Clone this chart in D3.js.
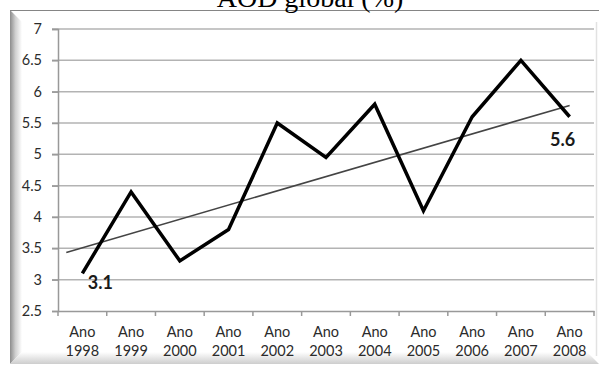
<!DOCTYPE html>
<html>
<head>
<meta charset="utf-8">
<script src="https://cdn.jsdelivr.net/npm/d3@7"></script>
<style>
  html, body { margin: 0; padding: 0; background: #fff; }
  svg { display: block; }
</style>
</head>
<body>
<svg id="chart" width="599" height="365"></svg>
<script>
// Global AOD by year, with a linear trend
const categories = ["Ano 1998", "Ano 1999", "Ano 2000", "Ano 2001", "Ano 2002", "Ano 2003",
                    "Ano 2004", "Ano 2005", "Ano 2006", "Ano 2007", "Ano 2008"];
const aodValues = [3.1, 4.4, 3.3, 3.8, 5.5, 4.95, 5.8, 4.1, 5.6, 6.5, 5.6];
// trend line endpoints: [category position, value]
const trendPoints = [[-0.33, 3.435], [10, 5.78]];
const yTicks = [2.5, 3, 3.5, 4, 4.5, 5, 5.5, 6, 6.5, 7];
const labelledPoints = [0, 10];
const titleText = "AOD global (%)";

const svg = d3.select("#chart");
const W = 599, H = 365;
const plot = { left: 58, right: 594, top: 29, bottom: 311 };

const defs = svg.append("defs");
const gl = defs.append("linearGradient").attr("id", "bevelLeft")
  .attr("x1", "0").attr("x2", "1").attr("y1", "0").attr("y2", "0");
gl.append("stop").attr("offset", "0").attr("stop-color", "#8c8c8c");
gl.append("stop").attr("offset", "0.45").attr("stop-color", "#cfcfcf");
gl.append("stop").attr("offset", "1").attr("stop-color", "#ffffff");
const gb = defs.append("linearGradient").attr("id", "bevelBottom")
  .attr("x1", "0").attr("x2", "0").attr("y1", "0").attr("y2", "1");
gb.append("stop").attr("offset", "0").attr("stop-color", "#ffffff");
gb.append("stop").attr("offset", "1").attr("stop-color", "#cdcdcd");

// frame
svg.append("rect").attr("x", 10).attr("y", 10).attr("width", 587).attr("height", 354).attr("fill", "#fff");
svg.append("path").attr("d", "M10,10 L22,22 L22,352 L10,364 Z").attr("fill", "url(#bevelLeft)");
svg.append("path").attr("d", "M10,364 L22,352 L587,352 L599,364 Z").attr("fill", "url(#bevelBottom)");
svg.append("line").attr("x1", 596.5).attr("x2", 596.5).attr("y1", 22).attr("y2", 356)
  .attr("stroke", "#e2e2e2").attr("stroke-width", 1.5);
svg.append("line").attr("x1", 10).attr("x2", W).attr("y1", 10.5).attr("y2", 10.5)
  .attr("stroke", "#858585").attr("stroke-width", 1.2);

// title (sits partly above the top edge)
svg.append("text").attr("x", 310).attr("y", 7).attr("text-anchor", "middle")
  .attr("font-family", "'Liberation Serif', 'Times New Roman', serif")
  .attr("font-size", 28).attr("fill", "#000").text(titleText);

const x = d3.scaleBand().domain(categories).range([plot.left, plot.right]).padding(0);
const y = d3.scaleLinear().domain([2.5, 7]).range([plot.bottom, plot.top]);
const xPos = i => x(categories[0]) + x.bandwidth() / 2 + i * x.step();

// gridlines
svg.append("g").selectAll("line").data(yTicks.filter(t => t !== 2.5)).join("line")
  .attr("x1", plot.left - 6).attr("x2", plot.right)
  .attr("y1", d => y(d)).attr("y2", d => y(d))
  .attr("stroke", "#b3b3b3").attr("stroke-width", 1.5);

// y axis
const yAxis = svg.append("g").attr("transform", `translate(${plot.left},0)`)
  .call(d3.axisLeft(y).tickValues(yTicks).tickSize(6).tickPadding(10).tickFormat(d3.format("")));
yAxis.select(".domain").attr("stroke", "#999").attr("stroke-width", 1.5);
yAxis.selectAll(".tick line").attr("stroke", "#999").attr("stroke-width", 1.5);
yAxis.selectAll(".tick text").attr("font-family", "Lato, 'Open Sans', sans-serif")
  .attr("font-size", 14.5).attr("fill", "#2b2b2b");

// x axis
const xAxis = svg.append("g").attr("transform", `translate(0,${plot.bottom})`)
  .call(d3.axisBottom(x).tickSize(0).tickFormat(""));
xAxis.select(".domain").attr("stroke", "#999").attr("stroke-width", 1.5);
svg.append("g").selectAll("line").data(d3.range(categories.length + 1)).join("line")
  .attr("x1", i => plot.left + i * x.step()).attr("x2", i => plot.left + i * x.step())
  .attr("y1", plot.bottom).attr("y2", plot.bottom + 5)
  .attr("stroke", "#999").attr("stroke-width", 1.5);
const catLabels = svg.append("g").selectAll("text").data(categories).join("text")
  .attr("text-anchor", "middle")
  .attr("font-family", "Lato, 'Open Sans', sans-serif")
  .attr("font-size", 14.5).attr("fill", "#2b2b2b");
catLabels.each(function(d) {
  const parts = d.split(" ");
  const cx = x(d) + x.bandwidth() / 2;
  d3.select(this).append("tspan").attr("x", cx).attr("y", 337).text(parts[0]);
  d3.select(this).append("tspan").attr("x", cx).attr("y", 356).text(parts[1]);
});

// trend line
svg.append("path").datum(trendPoints)
  .attr("d", d3.line().x(d => xPos(d[0])).y(d => y(d[1])))
  .attr("fill", "none").attr("stroke", "#444").attr("stroke-width", 1.6);

// series line
svg.append("path").datum(aodValues)
  .attr("d", d3.line().x((d, i) => xPos(i)).y(d => y(d)))
  .attr("fill", "none").attr("stroke", "#000").attr("stroke-width", 3.5)
  .attr("stroke-linejoin", "miter");

// data labels
const labelOffsets = { 0: [18, 16], 10: [-7, 29] };
svg.append("g").selectAll("text").data(labelledPoints).join("text")
  .attr("x", i => xPos(i) + labelOffsets[i][0])
  .attr("y", i => y(aodValues[i]) + labelOffsets[i][1])
  .attr("text-anchor", "middle")
  .attr("font-family", "Lato, 'Open Sans', sans-serif")
  .attr("font-weight", "bold").attr("font-size", 18).attr("fill", "#1a1a1a")
  .text(i => d3.format("")(aodValues[i]));
</script>
</body>
</html>
